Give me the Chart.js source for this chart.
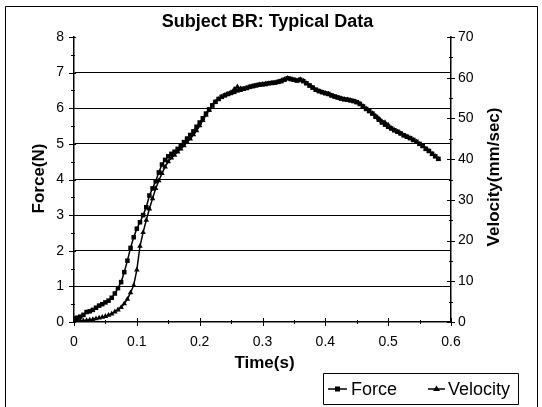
<!DOCTYPE html>
<html>
<head>
<meta charset="utf-8">
<script src="https://cdn.jsdelivr.net/npm/chart.js@4.4.1/dist/chart.umd.min.js"></script>
<style>
html,body{margin:0;padding:0;background:#fff;}
canvas{display:block;}
</style>
</head>
<body>
<canvas id="c" width="542" height="407"></canvas>
<script>
const chartTitle = "Subject BR: Typical Data";
const xTitle = "Time(s)";
const yLeftTitle = "Force(N)";
const yRightTitle = "Velocity(mm/sec)";
const seriesNames = ["Force", "Velocity"];

const times = [
0.000,0.005,0.010,0.015,0.020,0.025,0.030,0.035,0.040,0.045,
0.050,0.055,0.060,0.065,0.070,0.075,0.080,0.085,0.090,0.095,
0.100,0.105,0.110,0.115,0.120,0.125,0.130,0.135,0.140,0.145,
0.150,0.155,0.160,0.165,0.170,0.175,0.180,0.185,0.190,0.195,
0.200,0.205,0.210,0.215,0.220,0.225,0.230,0.235,0.240,0.245,
0.250,0.255,0.260,0.265,0.270,0.275,0.280,0.285,0.290,0.295,
0.300,0.305,0.310,0.315,0.320,0.325,0.330,0.335,0.340,0.345,
0.350,0.355,0.360,0.365,0.370,0.375,0.380,0.385,0.390,0.395,
0.400,0.405,0.410,0.415,0.420,0.425,0.430,0.435,0.440,0.445,
0.450,0.455,0.460,0.465,0.470,0.475,0.480,0.485,0.490,0.495,
0.500,0.505,0.510,0.515,0.520,0.525,0.530,0.535,0.540,0.545,
0.550,0.555,0.560,0.565,0.570,0.575,0.580];

const force = [
0.10,0.12,0.15,0.20,0.28,0.30,0.34,0.40,0.46,0.50,
0.55,0.60,0.68,0.80,0.95,1.12,1.40,1.72,2.08,2.38,
2.62,2.80,3.00,3.22,3.55,3.75,3.95,4.20,4.42,4.55,
4.65,4.72,4.78,4.86,4.95,5.05,5.15,5.25,5.35,5.48,
5.60,5.72,5.85,5.97,6.08,6.18,6.26,6.32,6.36,6.40,
6.43,6.46,6.50,6.52,6.55,6.57,6.60,6.62,6.64,6.66,
6.67,6.68,6.70,6.71,6.72,6.74,6.76,6.80,6.84,6.82,
6.80,6.78,6.80,6.76,6.70,6.64,6.58,6.52,6.48,6.45,
6.42,6.40,6.36,6.33,6.30,6.27,6.25,6.24,6.22,6.20,
6.17,6.12,6.05,5.98,5.92,5.85,5.76,5.68,5.60,5.54,
5.48,5.43,5.38,5.34,5.29,5.24,5.20,5.16,5.11,5.06,
5.00,4.94,4.86,4.80,4.72,4.65,4.58];

const velocity = [
0.2,0.2,0.3,0.3,0.4,0.5,0.6,0.8,1.0,1.2,
1.4,1.7,2.0,2.5,3.0,3.6,4.5,5.6,7.2,9.0,
12.8,18.6,22.0,25.0,27.8,30.3,32.8,34.7,36.5,38.1,
39.4,40.3,41.0,41.8,42.5,43.3,44.2,45.0,46.0,47.0,
48.2,49.5,50.8,52.0,53.1,54.0,54.7,55.3,55.7,56.0,
56.4,57.2,57.8,57.3,57.2,57.5,57.8,58.0,58.1,58.3,
58.4,58.5,58.6,58.7,58.8,59.0,59.3,59.6,59.9,59.7,
59.4,59.2,59.6,59.2,58.6,58.0,57.5,57.0,56.7,56.4,
56.2,56.0,55.6,55.3,55.1,54.9,54.7,54.6,54.4,54.2,
54.0,53.6,53.0,52.4,51.8,51.2,50.6,50.0,49.3,49.0,
48.4,47.6,47.1,46.7,46.3,45.8,45.5,45.1,44.7,44.2,
43.7,43.2,42.5,42.0,41.3,40.7,40.0];

const xTicks = [0, 0.1, 0.2, 0.3, 0.4, 0.5, 0.6];
const yLeftTicks = [0, 1, 2, 3, 4, 5, 6, 7, 8];
const yRightTicks = [0, 10, 20, 30, 40, 50, 60, 70];

const FONT = '"Liberation Sans", Arial, Helvetica, sans-serif';

const decor = {
  id: 'decor',
  afterDraw(chart) {
    const ctx = chart.ctx;
    const ca = chart.chartArea;
    const sx = chart.scales.x, sy = chart.scales.y, sy1 = chart.scales.y1;
    ctx.save();
    ctx.strokeStyle = '#000';
    ctx.fillStyle = '#000';
    ctx.lineWidth = 1;
    ctx.beginPath();
    for (let i = 0; i <= 12; i++) {
      const v = sx.min + i * (sx.max - sx.min) / 12;
      const px = Math.round(sx.getPixelForValue(v)) + 0.5;
      const major = i % 2 === 0;
      ctx.moveTo(px, ca.bottom - (major ? 4 : 2));
      ctx.lineTo(px, ca.bottom + (major ? 4 : 2));
    }
    for (let i = 0; i <= 16; i++) {
      const v = sy.min + i * (sy.max - sy.min) / 16;
      const py = Math.round(sy.getPixelForValue(v)) + 0.5;
      const major = i % 2 === 0;
      ctx.moveTo(ca.left - (major ? 5 : 3), py);
      ctx.lineTo(ca.left + (major ? 2 : 1), py);
    }
    for (let i = 0; i <= 14; i++) {
      const v = sy1.min + i * (sy1.max - sy1.min) / 14;
      const py = Math.round(sy1.getPixelForValue(v)) + 0.5;
      const major = i % 2 === 0;
      ctx.moveTo(ca.right - (major ? 4 : 2), py);
      ctx.lineTo(ca.right + (major ? 4 : 2), py);
    }
    ctx.stroke();

    ctx.textAlign = 'center';
    ctx.textBaseline = 'middle';
    ctx.font = 'bold 18px ' + FONT;
    ctx.fillText(chartTitle, (ca.left + ca.right) / 2 + 5, 22);
    ctx.font = 'bold 17px ' + FONT;
    ctx.fillText(xTitle, (ca.left + ca.right) / 2 + 2, 363);
    ctx.save();
    ctx.translate(39, (ca.top + ca.bottom) / 2 - 1);
    ctx.rotate(-Math.PI / 2);
    ctx.fillText(yLeftTitle, 0, 0);
    ctx.restore();
    ctx.save();
    ctx.translate(494, 177);
    ctx.rotate(-Math.PI / 2);
    ctx.fillText(yRightTitle, 0, 0);
    ctx.restore();

    const lx = 323.5, ly = 373.5, lw = 195, lh = 31;
    ctx.beginPath();
    ctx.rect(lx, ly, lw, lh);
    ctx.stroke();
    const cy = 389;
    ctx.font = '18px ' + FONT;
    ctx.textAlign = 'left';
    const ds = chart.data.datasets;
    ctx.lineWidth = 1.5;
    ctx.beginPath();
    ctx.moveTo(328, cy); ctx.lineTo(347, cy); ctx.stroke();
    ctx.fillRect(335, cy - 2.5, 5, 5);
    ctx.fillText(ds[0].label, 351, cy + 1);
    ctx.beginPath();
    ctx.moveTo(428, cy); ctx.lineTo(445, cy); ctx.stroke();
    ctx.beginPath();
    ctx.moveTo(436.5, cy - 3.5); ctx.lineTo(440, cy + 2); ctx.lineTo(433, cy + 2); ctx.closePath(); ctx.fill();
    ctx.fillText(ds[1].label, 448, cy + 1);

    ctx.lineWidth = 1;
    ctx.beginPath();
    ctx.moveTo(5.5, 407); ctx.lineTo(5.5, 6.5); ctx.lineTo(537.5, 6.5); ctx.lineTo(537.5, 407);
    ctx.stroke();
    ctx.restore();
  }
};

new Chart(document.getElementById('c'), {
  type: 'line',
  data: {
    datasets: [
      {
        label: seriesNames[0],
        data: times.map((t, i) => ({x: t, y: force[i]})),
        yAxisID: 'y',
        borderColor: '#000',
        backgroundColor: '#000',
        borderWidth: 1.5,
        pointStyle: 'rect',
        pointRadius: 3.2,
        pointBorderWidth: 0,
        tension: 0
      },
      {
        label: seriesNames[1],
        data: times.map((t, i) => ({x: t, y: velocity[i]})),
        yAxisID: 'y1',
        borderColor: '#000',
        backgroundColor: '#000',
        borderWidth: 1.5,
        pointStyle: 'triangle',
        pointRadius: 3.2,
        pointBorderWidth: 0,
        tension: 0
      }
    ]
  },
  options: {
    responsive: false,
    animation: false,
    devicePixelRatio: 1,
    layout: { padding: { top: 37, left: 0, right: 0, bottom: 0 } },
    plugins: { legend: { display: false }, tooltip: { enabled: false }, title: { display: false } },
    scales: {
      x: {
        type: 'linear',
        min: xTicks[0], max: xTicks[xTicks.length - 1],
        afterBuildTicks: s => { s.ticks = xTicks.map(v => ({value: v})); },
        afterFit: s => { s.height = 85; },
        grid: { drawOnChartArea: false, drawTicks: false },
        border: { display: true, color: '#000', width: 1.5 },
        ticks: { color: '#000', font: { family: FONT, size: 14 }, padding: 12, maxRotation: 0,
                 callback: v => String(v) }
      },
      y: {
        position: 'left',
        min: yLeftTicks[0], max: yLeftTicks[yLeftTicks.length - 1],
        afterBuildTicks: s => { s.ticks = yLeftTicks.map(v => ({value: v})); },
        afterFit: s => { s.width = 74; },
        grid: {
          drawTicks: false,
          color: c => (c.tick && c.tick.value > 0 && c.tick.value < 8) ? '#000' : 'rgba(0,0,0,0)',
          lineWidth: 1
        },
        border: { display: true, color: '#000', width: 1.5 },
        ticks: { color: '#000', font: { family: FONT, size: 14 }, padding: 10 }
      },
      y1: {
        position: 'right',
        min: yRightTicks[0], max: yRightTicks[yRightTicks.length - 1],
        afterBuildTicks: s => { s.ticks = yRightTicks.map(v => ({value: v})); },
        afterFit: s => { s.width = 91; },
        grid: { drawOnChartArea: false, drawTicks: false },
        border: { display: true, color: '#000', width: 1.5 },
        ticks: { color: '#000', font: { family: FONT, size: 14 }, padding: 7 }
      }
    }
  },
  plugins: [decor]
});
</script>
</body>
</html>
